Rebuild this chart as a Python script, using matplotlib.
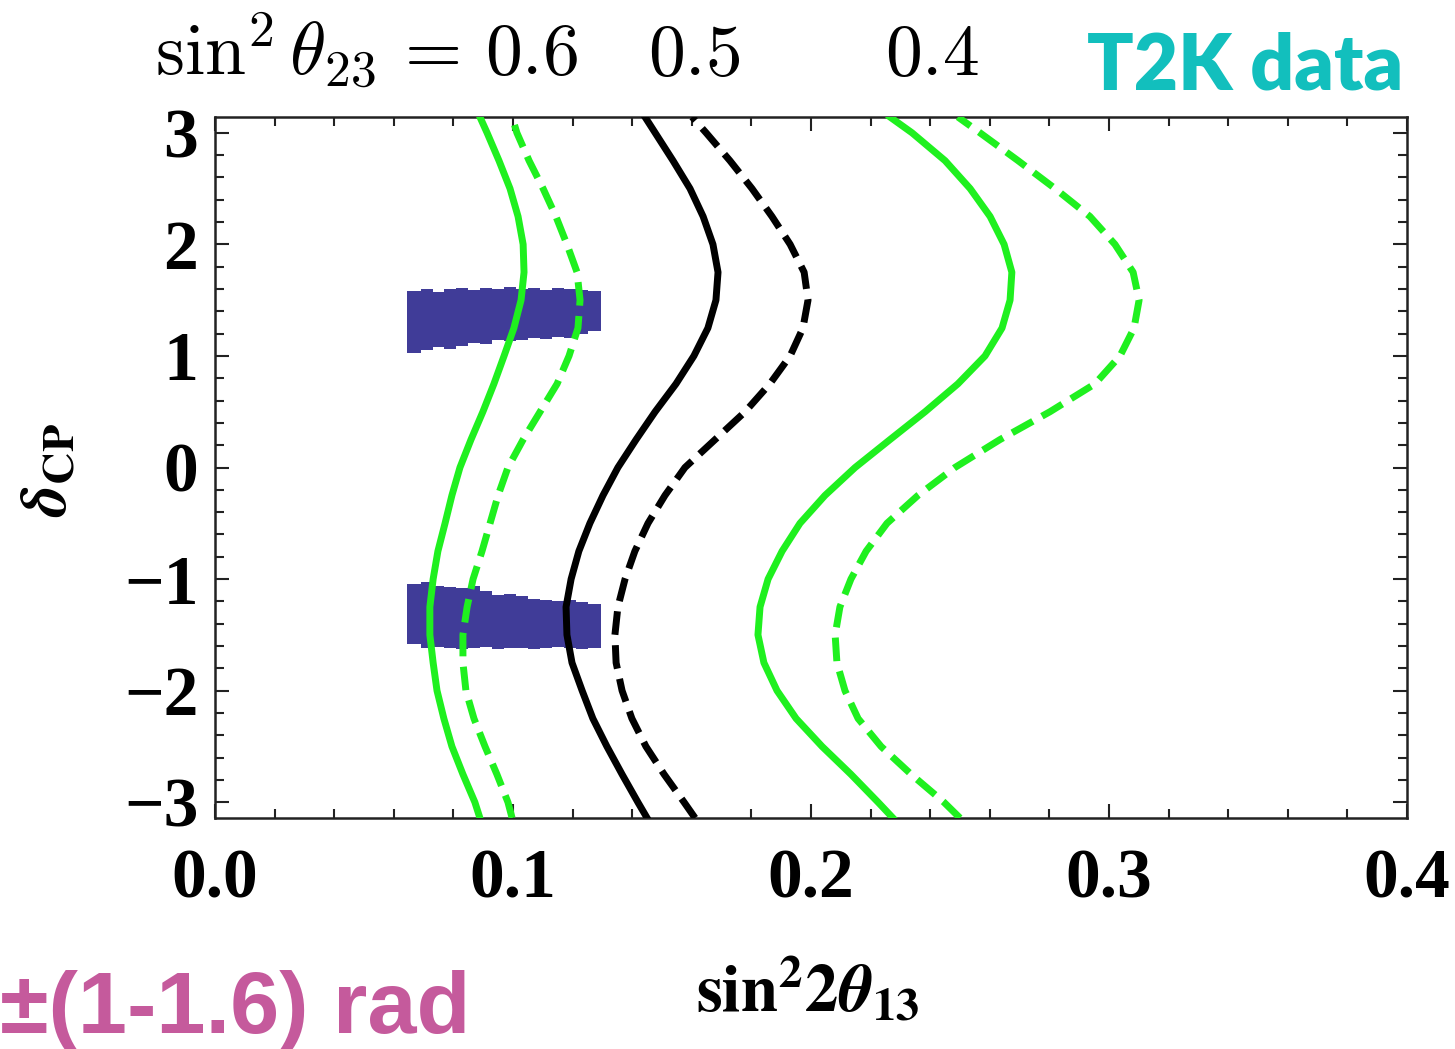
import numpy as np
import matplotlib
matplotlib.use("Agg")
import matplotlib.pyplot as plt
from matplotlib.ticker import MultipleLocator, FixedLocator

# ---------------- data ----------------
# common delta_CP grid (rad) on which every curve was read
delta = [-3.1416, -3.0, -2.75, -2.5, -2.25, -2.0, -1.75, -1.5, -1.25, -1.0, -0.75, -0.5, -0.25,
         0.0, 0.25, 0.5, 0.75, 1.0, 1.25, 1.5, 1.75, 2.0, 2.25, 2.5, 2.75, 3.0, 3.1416]

# sin^2 2theta13 for sin^2 theta23 = 0.6 (green), 0.5 (black), 0.4 (green); solid / dashed
g6s_x = [0.0889, 0.0872, 0.0832, 0.0795, 0.0768, 0.0745, 0.0732, 0.0721, 0.0721, 0.0732, 0.0748, 0.0772, 0.0795,
         0.0822, 0.0859, 0.0899, 0.0936, 0.0970, 0.1003, 0.1027, 0.1037, 0.1034, 0.1017, 0.0990, 0.0953, 0.0913, 0.0889]
g6d_x = [0.0997, 0.0983, 0.0946, 0.0906, 0.0869, 0.0842, 0.0832, 0.0832, 0.0846, 0.0866, 0.0896, 0.0923, 0.0950,
         0.0983, 0.1034, 0.1091, 0.1148, 0.1188, 0.1218, 0.1225, 0.1215, 0.1181, 0.1144, 0.1101, 0.1054, 0.1013, 0.0997]
b5s_x = [0.1450, 0.1419, 0.1366, 0.1315, 0.1268, 0.1232, 0.1198, 0.1181, 0.1178, 0.1195, 0.1221, 0.1258, 0.1302,
         0.1352, 0.1413, 0.1477, 0.1547, 0.1607, 0.1654, 0.1681, 0.1688, 0.1671, 0.1638, 0.1594, 0.1537, 0.1477, 0.1443]
b5d_x = [0.1611, 0.1574, 0.1507, 0.1446, 0.1399, 0.1366, 0.1346, 0.1342, 0.1352, 0.1376, 0.1409, 0.1453, 0.1510,
         0.1577, 0.1678, 0.1779, 0.1862, 0.1930, 0.1973, 0.1990, 0.1977, 0.1930, 0.1869, 0.1802, 0.1728, 0.1648, 0.1601]
g4s_x = [0.2275, 0.2225, 0.2134, 0.2037, 0.1950, 0.1886, 0.1842, 0.1822, 0.1829, 0.1856, 0.1903, 0.1963, 0.2047,
         0.2148, 0.2265, 0.2383, 0.2493, 0.2584, 0.2641, 0.2668, 0.2674, 0.2648, 0.2601, 0.2534, 0.2450, 0.2339, 0.2265]
g4d_x = [0.2500, 0.2446, 0.2336, 0.2235, 0.2158, 0.2114, 0.2087, 0.2081, 0.2097, 0.2134, 0.2185, 0.2255, 0.2359,
         0.2483, 0.2634, 0.2802, 0.2953, 0.3037, 0.3084, 0.3101, 0.3081, 0.3020, 0.2936, 0.2819, 0.2695, 0.2567, 0.2493]

# T2K allowed regions (blue bands): column left edges and delta limits
band_x = [0.0645, 0.069, 0.073, 0.077, 0.081, 0.085, 0.089, 0.093, 0.097, 0.101, 0.105, 0.109, 0.113, 0.117, 0.121, 0.125, 0.1295]
ub_top = [1.58, 1.60, 1.57, 1.60, 1.61, 1.59, 1.61, 1.60, 1.62, 1.60, 1.61, 1.59, 1.61, 1.60, 1.59, 1.58, 1.56]
ub_bot = [1.03, 1.05, 1.08, 1.06, 1.09, 1.12, 1.11, 1.14, 1.13, 1.14, 1.16, 1.15, 1.17, 1.16, 1.20, 1.22, 1.26]
lb_top = [-1.04, -1.03, -1.06, -1.07, -1.08, -1.06, -1.11, -1.14, -1.13, -1.15, -1.18, -1.19, -1.20, -1.19, -1.21, -1.22, -1.29]
lb_bot = [-1.58, -1.62, -1.61, -1.62, -1.63, -1.62, -1.61, -1.63, -1.62, -1.62, -1.63, -1.62, -1.61, -1.62, -1.63, -1.62, -1.61]

x_ticks = [0.0, 0.1, 0.2, 0.3, 0.4]
x_ticklabels = ["0.0", "0.1", "0.2", "0.3", "0.4"]
y_ticks = [-3, -2, -1, 0, 1, 2, 3]
y_ticklabels = ["\u22123", "\u22122", "\u22121", "0", "1", "2", "3"]
top_labels = [r"$\sin^2\theta_{23}\,=\,0.6$", r"$0.5$", r"$0.4$"]

# ---------------- figure ----------------
W, H = 1455, 1049
fig = plt.figure(figsize=(W / 100, H / 100), dpi=100)
ax = fig.add_axes([215 / W, (H - 818) / H, (1407 - 215) / W, (818 - 117) / H])

GREEN = "#1ff01f"
BLUE = "#403c98"
LW = 5.0
DASH = (0, (3.4, 1.5))

bx = np.array(band_x)
edges = np.append(bx, bx[-1] + 0.0001)
ax.fill_between(edges, np.append(ub_bot, ub_bot[-1]), np.append(ub_top, ub_top[-1]),
                step="post", color=BLUE, lw=0, zorder=1)
ax.fill_between(edges, np.append(lb_bot, lb_bot[-1]), np.append(lb_top, lb_top[-1]),
                step="post", color=BLUE, lw=0, zorder=1)

kw = dict(lw=LW, zorder=3, solid_joinstyle="round")
ax.plot(g6s_x, delta, color=GREEN, **kw)
ax.plot(g6d_x, delta, color=GREEN, ls=DASH, **kw)
ax.plot(b5s_x, delta, color="black", **kw)
ax.plot(b5d_x, delta, color="black", ls=DASH, **kw)
ax.plot(g4s_x, delta, color=GREEN, **kw)
ax.plot(g4d_x, delta, color=GREEN, ls=DASH, **kw)

ax.set_xlim(0, 0.4)
ax.set_ylim(-np.pi, np.pi)

ax.xaxis.set_major_locator(FixedLocator(x_ticks))
ax.xaxis.set_minor_locator(MultipleLocator(0.02))
ax.yaxis.set_major_locator(FixedLocator(y_ticks))
ax.yaxis.set_minor_locator(MultipleLocator(0.2))
ax.set_xticklabels(x_ticklabels)
ax.set_yticklabels(y_ticklabels)
ax.tick_params(which="both", direction="in", top=True, right=True, width=1.5, color="#222222")
ax.tick_params(which="major", length=10)
ax.tick_params(which="minor", length=6.5)
ax.tick_params(axis="x", which="major", pad=22)
ax.tick_params(axis="y", which="major", pad=12)
for lab in ax.get_xticklabels() + ax.get_yticklabels():
    lab.set_fontfamily("Liberation Serif")
    lab.set_fontweight("bold")
    lab.set_fontsize(50)
for s in ax.spines.values():
    s.set_linewidth(1.8)
    s.set_color("#222222")

# axis labels
fig.text(808 / W, (H - 1013) / H,
         r"$\mathbf{sin}^{\mathbf{2}}\mathbf{2}\mathbfit{\theta}_{\mathbf{13}}$",
         math_fontfamily="stix", fontsize=48, ha="center", va="baseline")
fig.text(48 / W, (H - 470) / H, r"$\mathbfit{\delta}_{\mathbf{CP}}$",
         math_fontfamily="stix", fontsize=46, rotation=90, ha="center", va="center")

# top annotations
for lab, xp in zip(top_labels, [155, 648, 885]):
    fig.text(xp / W, (H - 75) / H, lab, math_fontfamily="cm", fontsize=53,
             ha="left", va="baseline")

t2k = fig.text(1087 / W, (H - 90) / H, "T2K data", color="#12bfbd", fontsize=56,
               fontfamily="Lato", fontweight="heavy", ha="left", va="baseline")
rad = fig.text(0.0, (H - 1033) / H, "\u00b1(1-1.6) rad", color="#c55a9c", fontsize=60,
               fontfamily="Liberation Sans", fontweight="bold", ha="left", va="baseline")

# fit widths of the two annotation texts
r = fig.canvas.get_renderer()
for t, target in [(t2k, 1403 - 1087), (rad, 470)]:
    w = t.get_window_extent(r).width
    t.set_fontsize(t.get_fontsize() * target / w)

fig.savefig("out.png", dpi=100)
